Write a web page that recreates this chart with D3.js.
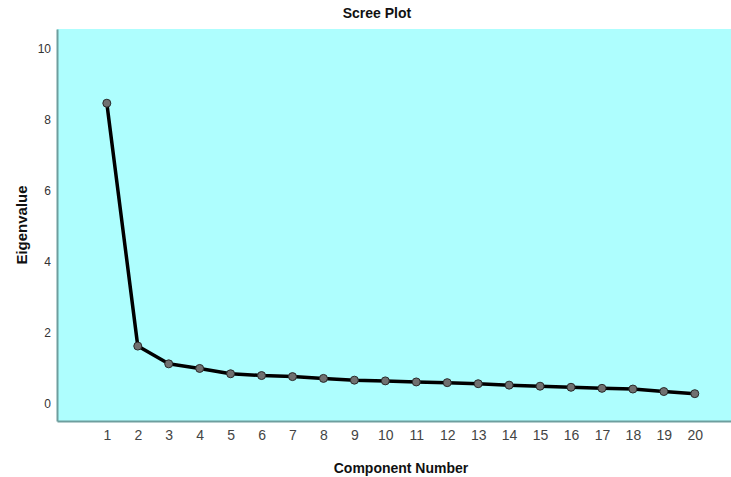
<!DOCTYPE html>
<html><head><meta charset="utf-8">
<script src="https://cdn.jsdelivr.net/npm/d3@7"></script>
<style>body{margin:0;background:#fff}svg{display:block}</style>
</head><body>
<svg id="c" width="731" height="477"></svg>
<script>
const components = [1,2,3,4,5,6,7,8,9,10,11,12,13,14,15,16,17,18,19,20];
const eigenvalues = [8.46,1.62,1.12,0.99,0.84,0.79,0.76,0.71,0.66,0.64,0.61,0.59,0.56,0.52,0.49,0.46,0.43,0.41,0.34,0.28];
const yTicks = [0,2,4,6,8,10];
const chartTitle = "Scree Plot";
const xTitle = "Component Number";
const yTitle = "Eigenvalue";

const svg = d3.select("#c");
const L = 57, R = 731, T = 29, B = 421;
const x = d3.scaleLinear().domain([-0.61, 21.17]).range([L, R]);
const y = d3.scaleLinear().domain([-0.49, 10.55]).range([B, T]);

svg.append("rect").attr("x", L).attr("y", T).attr("width", R - L).attr("height", B - T).attr("fill", "#AEFEFE");

const font = "Liberation Sans, Arial, sans-serif";
// Y axis
const ya = svg.append("g").attr("transform", `translate(${L},0)`)
  .call(d3.axisLeft(y).tickValues(yTicks).tickSize(0).tickPadding(6).tickFormat(d3.format("d")));
ya.select(".domain").attr("stroke", "#6E9E9E").attr("stroke-width", 2);
ya.selectAll("text").attr("font-family", font).attr("font-size", 12).attr("fill", "#333");

// X axis
const xa = svg.append("g").attr("transform", `translate(0,${B})`)
  .call(d3.axisBottom(x).tickValues(components).tickSize(0).tickPadding(9).tickFormat(d3.format("d")));
xa.select(".domain").attr("stroke", "#6E9E9E").attr("stroke-width", 2);
xa.selectAll("text").attr("font-family", font).attr("font-size", 14).attr("fill", "#444");

// Line
svg.append("path").datum(components.map((c, i) => [c, eigenvalues[i]]))
  .attr("fill", "none").attr("stroke", "#000").attr("stroke-width", 3.5).attr("stroke-linejoin", "round")
  .attr("d", d3.line().x(d => x(d[0])).y(d => y(d[1])));

svg.selectAll("circle.pt").data(components).join("circle").attr("class", "pt")
  .attr("cx", d => x(d)).attr("cy", (d, i) => y(eigenvalues[i])).attr("r", 4)
  .attr("fill", "#707070").attr("stroke", "#2a2a2a").attr("stroke-width", 1);

// Titles
svg.append("text").attr("x", 377).attr("y", 18).attr("text-anchor", "middle")
  .attr("font-family", font).attr("font-weight", "bold").attr("font-size", 14).attr("fill", "#111").text(chartTitle);
svg.append("text").attr("x", 401).attr("y", 473).attr("text-anchor", "middle")
  .attr("font-family", font).attr("font-weight", "bold").attr("font-size", 14).attr("fill", "#111").text(xTitle);
svg.append("text").attr("transform", "translate(27,225) rotate(-90)").attr("text-anchor", "middle")
  .attr("font-family", font).attr("font-weight", "bold").attr("font-size", 15).attr("fill", "#111").text(yTitle);
</script>
</body></html>
